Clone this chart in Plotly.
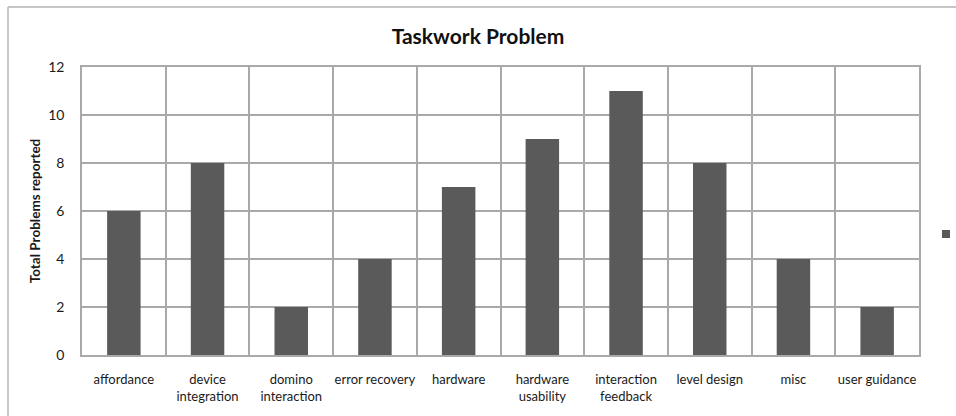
import plotly.graph_objects as go

# Problem categories and how many of each were reported
categories = [
    "affordance", "device<br>integration", "domino<br>interaction", "error recovery",
    "hardware", "hardware<br>usability", "interaction<br>feedback", "level design",
    "misc", "user guidance",
]
problems_reported = [6, 8, 2, 4, 7, 9, 11, 8, 4, 2]
y_ticks = [0, 2, 4, 6, 8, 10, 12]

BAR_COLOR = "#5a5a5a"
GRID_COLOR = "#a9a9a9"
FONT = "Lato, 'Open Sans', sans-serif"

fig = go.Figure()
fig.add_trace(go.Bar(
    x=categories,
    y=problems_reported,
    marker=dict(color=BAR_COLOR, line=dict(width=0)),
    showlegend=False,
))
# Legend entry for the single (unnamed) series
fig.add_trace(go.Scatter(
    x=[None], y=[None], mode="markers", name="",
    marker=dict(symbol="square", size=8, color=BAR_COLOR),
    showlegend=True,
))

W, H = 956, 416
L, R, T, B = 82, 37, 67, 61
pw, ph = W - L - R, H - T - B


def px_x(px):
    return (px - L) / pw


def px_y(py):
    return (H - B - py) / ph


# Outer chart frame (top and left edges visible)
frame = dict(color="#b3b3b3", width=1.5)
fig.add_shape(type="line", xref="paper", yref="paper",
              x0=px_x(8), x1=px_x(970), y0=px_y(7), y1=px_y(7), line=frame)
fig.add_shape(type="line", xref="paper", yref="paper",
              x0=px_x(8), x1=px_x(8), y0=px_y(7), y1=px_y(430), line=frame)

fig.update_layout(
    width=W, height=H,
    margin=dict(l=L, r=R, t=T, b=B, autoexpand=False),
    paper_bgcolor="white", plot_bgcolor="white",
    font=dict(family=FONT, size=13, color="#1a1a1a"),
    bargap=0.6,
    title=dict(text="<b>Taskwork Problem</b>", x=0.5, xanchor="center",
               xref="container", y=1 - 37 / H, yref="container", yanchor="middle",
               font=dict(family=FONT, size=21, color="#111111")),
    legend=dict(x=px_x(926), xanchor="left", y=px_y(234), yanchor="middle",
                bgcolor="rgba(0,0,0,0)", font=dict(size=12)),
    xaxis=dict(
        type="category", tickson="boundaries", showgrid=True,
        gridcolor=GRID_COLOR, gridwidth=1.5, automargin=False,
        showline=True, mirror=True, linecolor=GRID_COLOR, linewidth=1.5,
        ticks="", tickangle=0, ticklabelstandoff=12, tickfont=dict(size=13),
    ),
    yaxis=dict(
        range=[0, 12], tickvals=y_ticks, showgrid=True, automargin=False,
        gridcolor=GRID_COLOR, gridwidth=1.5, zeroline=False,
        showline=True, mirror=True, linecolor=GRID_COLOR, linewidth=1.5,
        ticks="", ticklabelstandoff=13, tickfont=dict(size=14),
        title=dict(text="<b>Total Problems reported</b>", standoff=4,
                   font=dict(size=13.5)),
    ),
)

fig.write_html("out.html")
